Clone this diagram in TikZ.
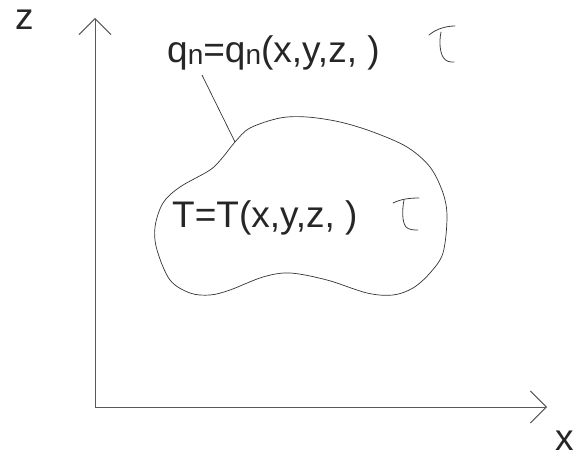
\documentclass[tikz,border=0pt]{standalone}
\usepackage{fontspec}
\setmainfont{Liberation Sans}
\usetikzlibrary{arrows.meta}

\begin{document}
\begin{tikzpicture}[
    x=1pt, y=-1pt,
    font=\fontsize{37}{40}\selectfont,
    % styles
    axis/.style={draw=black!65, line width=0.9pt, -{Straight Barb[length=16pt, width=32pt, line width=0.9pt]}},
    label/.style={inner sep=0pt, text=black!85},
    sketch/.style={draw=black!80, line width=0.7pt},
    taustroke/.style={draw=black!75, line width=0.8pt, line cap=round},
]
    \useasboundingbox (0,0) rectangle (573,457);

    % axes
    \coordinate (O) at (95,407);
    \coordinate (zend) at (95,18);
    \coordinate (xend) at (547,407);
    \draw[axis] (O) -- (zend);
    \draw[axis] (O) -- (xend);
    \node[label, anchor=base west] (zlab) at (15,30) {z};
    \node[label, anchor=base west] (xlab) at (555,450) {x};

    % region
    \draw[sketch] plot[smooth cycle, tension=0.55] coordinates {
        (235,142) (250,128) (280,118) (307,117) (340,122) (373,132)
        (407,147) (430,167) (443,193) (447,217) (443,253) (430,273)
        (413,288) (393,295) (367,293) (327,280) (290,273) (263,277)
        (230,290) (210,295) (190,293) (170,280) (157,250) (155,227)
        (163,203) (180,187) (210,170) (223,157)};

    % labels
    \node[label, anchor=base west] (qlab) at (167,63)
        {q\raisebox{-0.04em}{\fontsize{28}{30}\selectfont n}=q\raisebox{-0.04em}{\fontsize{28}{30}\selectfont n}(x,y,z,\ )};
    \node[label, anchor=base west] (Tlab) at (172,228) {T=T(x,y,z,\ )};

    % leader
    \coordinate (lead) at (202,75);
    \coordinate (edge) at (235,142);
    \draw[sketch] (lead) -- (edge);

    % tau marks
    \draw[taustroke] (429,35) .. controls (436,29) and (446,26) .. (455,26);
    \draw[taustroke] (441,32) .. controls (439,42) and (440,52) .. (443,57)
        .. controls (446,62) and (450,62) .. (454,62);
    \draw[taustroke] (393,203) .. controls (401,199) and (410,198) .. (419,198);
    \draw[taustroke] (404,200) .. controls (402,210) and (402,222) .. (406,227)
        .. controls (409,230) and (414,230) .. (418,230);
\end{tikzpicture}
\end{document}
